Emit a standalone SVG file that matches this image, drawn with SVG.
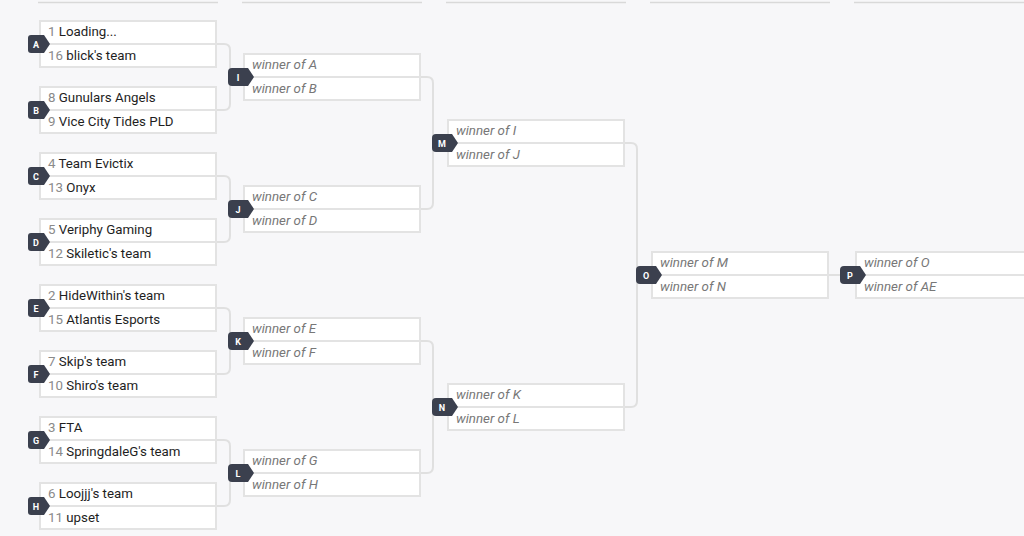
<svg xmlns="http://www.w3.org/2000/svg" width="1024" height="536" viewBox="0 0 1024 536">
<style>
.bg{fill:#f7f7f9}
.hdr{stroke:#d9d9d9;stroke-width:1.5}
.box{fill:#ffffff;stroke:#e3e3e3;stroke-width:2}
.div{stroke:#e3e3e3;stroke-width:2}
.con{fill:none;stroke:#e0e0e0;stroke-width:2}
.badge{fill:#3b404e}
.bl{font-family:Roboto,"Liberation Sans",sans-serif;font-size:9px;font-weight:bold;fill:#ffffff;text-anchor:middle}
.t{font-family:Roboto,"Liberation Sans",sans-serif;font-size:13.3px;fill:#1e1e1e}
.seed{fill:#8a8a8a}
.w{font-family:Roboto,"Liberation Sans",sans-serif;font-size:13.3px;font-style:italic;fill:#777777}
</style>
<rect class="bg" x="0" y="0" width="1024" height="536"/>
<g id="headers">
<line class="hdr" x1="38" y1="2.5" x2="218" y2="2.5"/>
<line class="hdr" x1="242" y1="2.5" x2="422" y2="2.5"/>
<line class="hdr" x1="446" y1="2.5" x2="626" y2="2.5"/>
<line class="hdr" x1="650" y1="2.5" x2="830" y2="2.5"/>
<line class="hdr" x1="854" y1="2.5" x2="1024" y2="2.5"/>
</g>
<g id="connectors">
<path class="con" d="M217,44 H224 Q230,44 230,50 V104 Q230,110 224,110 H217"/>
<path class="con" d="M217,176 H224 Q230,176 230,182 V236 Q230,242 224,242 H217"/>
<path class="con" d="M217,308 H224 Q230,308 230,314 V368 Q230,374 224,374 H217"/>
<path class="con" d="M217,440 H224 Q230,440 230,446 V500 Q230,506 224,506 H217"/>
<path class="con" d="M421,77 H427 Q433,77 433,83 V203 Q433,209 427,209 H421"/>
<path class="con" d="M421,341 H427 Q433,341 433,347 V467 Q433,473 427,473 H421"/>
<path class="con" d="M625,143 H631 Q637,143 637,149 V401 Q637,407 631,407 H625"/>
<path class="con" d="M829,275 H855"/>
</g>
<g id="match-A">
<rect class="box" x="40" y="21" width="176" height="46"/><line class="div" x1="40" y1="44" x2="216" y2="44"/>
<text class="t" x="48" y="36"><tspan class="seed">1</tspan> Loading...</text>
<text class="t" x="48" y="60"><tspan class="seed">16</tspan> blick's team</text>
<path class="badge" d="M31,35 H44 L50,44 L44,53 H31 Q28,53 28,50 V38 Q28,35 31,35 Z"/><text class="bl" x="36" y="47.5">A</text>
</g>
<g id="match-B">
<rect class="box" x="40" y="87" width="176" height="46"/><line class="div" x1="40" y1="110" x2="216" y2="110"/>
<text class="t" x="48" y="102"><tspan class="seed">8</tspan> Gunulars Angels</text>
<text class="t" x="48" y="126"><tspan class="seed">9</tspan> Vice City Tides PLD</text>
<path class="badge" d="M31,101 H44 L50,110 L44,119 H31 Q28,119 28,116 V104 Q28,101 31,101 Z"/><text class="bl" x="36" y="113.5">B</text>
</g>
<g id="match-C">
<rect class="box" x="40" y="153" width="176" height="46"/><line class="div" x1="40" y1="176" x2="216" y2="176"/>
<text class="t" x="48" y="168"><tspan class="seed">4</tspan> Team Evictix</text>
<text class="t" x="48" y="192"><tspan class="seed">13</tspan> Onyx</text>
<path class="badge" d="M31,167 H44 L50,176 L44,185 H31 Q28,185 28,182 V170 Q28,167 31,167 Z"/><text class="bl" x="36" y="179.5">C</text>
</g>
<g id="match-D">
<rect class="box" x="40" y="219" width="176" height="46"/><line class="div" x1="40" y1="242" x2="216" y2="242"/>
<text class="t" x="48" y="234"><tspan class="seed">5</tspan> Veriphy Gaming</text>
<text class="t" x="48" y="258"><tspan class="seed">12</tspan> Skiletic's team</text>
<path class="badge" d="M31,233 H44 L50,242 L44,251 H31 Q28,251 28,248 V236 Q28,233 31,233 Z"/><text class="bl" x="36" y="245.5">D</text>
</g>
<g id="match-E">
<rect class="box" x="40" y="285" width="176" height="46"/><line class="div" x1="40" y1="308" x2="216" y2="308"/>
<text class="t" x="48" y="300"><tspan class="seed">2</tspan> HideWithin's team</text>
<text class="t" x="48" y="324"><tspan class="seed">15</tspan> Atlantis Esports</text>
<path class="badge" d="M31,299 H44 L50,308 L44,317 H31 Q28,317 28,314 V302 Q28,299 31,299 Z"/><text class="bl" x="36" y="311.5">E</text>
</g>
<g id="match-F">
<rect class="box" x="40" y="351" width="176" height="46"/><line class="div" x1="40" y1="374" x2="216" y2="374"/>
<text class="t" x="48" y="366"><tspan class="seed">7</tspan> Skip's team</text>
<text class="t" x="48" y="390"><tspan class="seed">10</tspan> Shiro's team</text>
<path class="badge" d="M31,365 H44 L50,374 L44,383 H31 Q28,383 28,380 V368 Q28,365 31,365 Z"/><text class="bl" x="36" y="377.5">F</text>
</g>
<g id="match-G">
<rect class="box" x="40" y="417" width="176" height="46"/><line class="div" x1="40" y1="440" x2="216" y2="440"/>
<text class="t" x="48" y="432"><tspan class="seed">3</tspan> FTA</text>
<text class="t" x="48" y="456"><tspan class="seed">14</tspan> SpringdaleG's team</text>
<path class="badge" d="M31,431 H44 L50,440 L44,449 H31 Q28,449 28,446 V434 Q28,431 31,431 Z"/><text class="bl" x="36" y="443.5">G</text>
</g>
<g id="match-H">
<rect class="box" x="40" y="483" width="176" height="46"/><line class="div" x1="40" y1="506" x2="216" y2="506"/>
<text class="t" x="48" y="498"><tspan class="seed">6</tspan> Loojjj's team</text>
<text class="t" x="48" y="522"><tspan class="seed">11</tspan> upset</text>
<path class="badge" d="M31,497 H44 L50,506 L44,515 H31 Q28,515 28,512 V500 Q28,497 31,497 Z"/><text class="bl" x="36" y="509.5">H</text>
</g>
<g id="match-I">
<rect class="box" x="244" y="54" width="176" height="46"/><line class="div" x1="244" y1="77" x2="420" y2="77"/>
<text class="w" x="252" y="69">winner of A</text>
<text class="w" x="252" y="93">winner of B</text>
<path class="badge" d="M232,68 H248 L254,77 L248,86 H232 Q228,86 228,82 V72 Q228,68 232,68 Z"/><text class="bl" x="238" y="80.5">I</text>
</g>
<g id="match-J">
<rect class="box" x="244" y="186" width="176" height="46"/><line class="div" x1="244" y1="209" x2="420" y2="209"/>
<text class="w" x="252" y="201">winner of C</text>
<text class="w" x="252" y="225">winner of D</text>
<path class="badge" d="M232,200 H248 L254,209 L248,218 H232 Q228,218 228,214 V204 Q228,200 232,200 Z"/><text class="bl" x="238" y="212.5">J</text>
</g>
<g id="match-K">
<rect class="box" x="244" y="318" width="176" height="46"/><line class="div" x1="244" y1="341" x2="420" y2="341"/>
<text class="w" x="252" y="333">winner of E</text>
<text class="w" x="252" y="357">winner of F</text>
<path class="badge" d="M232,332 H248 L254,341 L248,350 H232 Q228,350 228,346 V336 Q228,332 232,332 Z"/><text class="bl" x="238" y="344.5">K</text>
</g>
<g id="match-L">
<rect class="box" x="244" y="450" width="176" height="46"/><line class="div" x1="244" y1="473" x2="420" y2="473"/>
<text class="w" x="252" y="465">winner of G</text>
<text class="w" x="252" y="489">winner of H</text>
<path class="badge" d="M232,464 H248 L254,473 L248,482 H232 Q228,482 228,478 V468 Q228,464 232,464 Z"/><text class="bl" x="238" y="476.5">L</text>
</g>
<g id="match-M">
<rect class="box" x="448" y="120" width="176" height="46"/><line class="div" x1="448" y1="143" x2="624" y2="143"/>
<text class="w" x="456" y="135">winner of I</text>
<text class="w" x="456" y="159">winner of J</text>
<path class="badge" d="M436,134 H452 L458,143 L452,152 H436 Q432,152 432,148 V138 Q432,134 436,134 Z"/><text class="bl" x="442" y="146.5">M</text>
</g>
<g id="match-N">
<rect class="box" x="448" y="384" width="176" height="46"/><line class="div" x1="448" y1="407" x2="624" y2="407"/>
<text class="w" x="456" y="399">winner of K</text>
<text class="w" x="456" y="423">winner of L</text>
<path class="badge" d="M436,398 H452 L458,407 L452,416 H436 Q432,416 432,412 V402 Q432,398 436,398 Z"/><text class="bl" x="442" y="410.5">N</text>
</g>
<g id="match-O">
<rect class="box" x="652" y="252" width="176" height="46"/><line class="div" x1="652" y1="275" x2="828" y2="275"/>
<text class="w" x="660" y="267">winner of M</text>
<text class="w" x="660" y="291">winner of N</text>
<path class="badge" d="M640,266 H656 L662,275 L656,284 H640 Q636,284 636,280 V270 Q636,266 640,266 Z"/><text class="bl" x="646" y="278.5">O</text>
</g>
<g id="match-P">
<rect class="box" x="856" y="252" width="176" height="46"/><line class="div" x1="856" y1="275" x2="1032" y2="275"/>
<text class="w" x="864" y="267">winner of O</text>
<text class="w" x="864" y="291">winner of AE</text>
<path class="badge" d="M844,266 H860 L866,275 L860,284 H844 Q840,284 840,280 V270 Q840,266 844,266 Z"/><text class="bl" x="850" y="278.5">P</text>
</g>
</svg>
